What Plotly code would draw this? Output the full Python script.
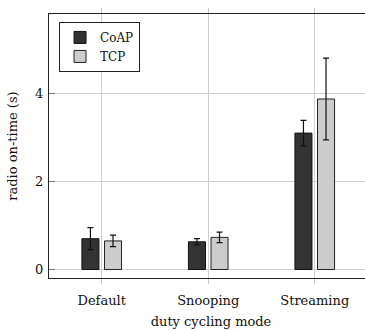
import plotly.graph_objects as go

categories = ["Default", "Snooping", "Streaming"]
coap_values = [0.70, 0.63, 3.10]
coap_errors = [0.25, 0.07, 0.29]
tcp_values = [0.65, 0.73, 3.875]
tcp_errors = [0.13, 0.12, 0.93]
y_ticks = [0, 2, 4]

FONT = "DejaVu Serif"

fig = go.Figure()
fig.add_trace(go.Bar(
    x=categories, y=coap_values, name="CoAP",
    width=0.16, offset=-0.186,
    marker=dict(color="#333333", line=dict(color="#111111", width=1)),
    error_y=dict(type="data", array=coap_errors, color="#111111", thickness=1.2, width=3),
))
fig.add_trace(go.Bar(
    x=categories, y=tcp_values, name="TCP",
    width=0.16, offset=0.026,
    marker=dict(color="#cccccc", line=dict(color="#222222", width=1)),
    error_y=dict(type="data", array=tcp_errors, color="#111111", thickness=1.2, width=3),
))

# the plot frame runs past the right edge of the window, as in the reference
fig.update_layout(
    width=373, height=331,
    margin=dict(l=49, r=0, t=14, b=53, autoexpand=False),
    paper_bgcolor="white", plot_bgcolor="white",
    font=dict(family=FONT, size=13, color="#111111"),
    showlegend=True,
    legend=dict(x=0.031, y=0.97, xanchor="left", yanchor="top",
                bgcolor="white", bordercolor="#222222", borderwidth=1,
                font=dict(family=FONT, size=12), tracegroupgap=0,
                itemwidth=30),
)
fig.update_xaxes(
    range=[-0.495, 2.547], automargin=False,
    showline=True, linecolor="#222222", linewidth=1.3, mirror="ticks",
    showgrid=True, gridcolor="#d0d0d0", gridwidth=1,
    ticks="outside", ticklen=5, tickcolor="#c8c8c8",
    ticklabelstandoff=5,
    title=dict(text="duty cycling mode", standoff=10, font=dict(family=FONT, size=13)),
    tickfont=dict(family=FONT, size=13),
)
fig.update_yaxes(
    range=[-0.193, 5.807], tickvals=y_ticks, automargin=False,
    showline=True, linecolor="#222222", linewidth=1.3, mirror=False,
    showgrid=True, gridcolor="#d0d0d0", gridwidth=1, zeroline=False,
    ticks="inside", ticklen=6, tickcolor="#777777",
    ticklabelstandoff=2,
    title=dict(text="radio on-time (s)", standoff=14, font=dict(family=FONT, size=13)),
    tickfont=dict(family=FONT, size=13),
)

fig.write_html(
    "out.html",
    config={"displayModeBar": False},
    post_script="document.body.style.margin='0';document.body.style.overflow='hidden';",
)
